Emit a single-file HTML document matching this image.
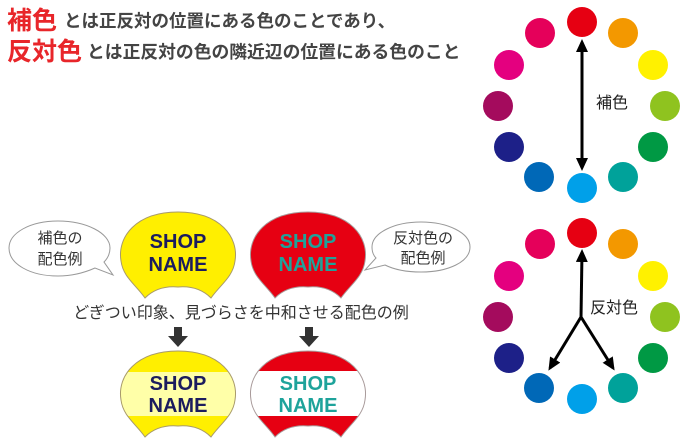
<!DOCTYPE html>
<html><head><meta charset="utf-8"><style>
body{margin:0;background:#fff;width:690px;height:444px;overflow:hidden}
svg{display:block}
text{font-family:"Liberation Sans","Noto Sans CJK JP",sans-serif}
</style></head><body>
<svg width="690" height="444" viewBox="0 0 690 444" xmlns="http://www.w3.org/2000/svg">
<defs>
<path id="fan" d="M58,1 C100,1 119,26 115,50 C113,66 100,74 91,87 C82,78 70,75 58,76 C46,75 34,78 25,87 C16,74 3,66 1,50 C-3,26 16,1 58,1 Z"/>
<clipPath id="fc"><use href="#fan"/></clipPath>
<marker id="ah" markerWidth="13" markerHeight="12" refX="10" refY="6" orient="auto" markerUnits="userSpaceOnUse"><path d="M0,0 L13,6 L0,12 Z" fill="#000"/></marker>
</defs>
<text x="7" y="29" font-size="25" font-weight="bold" fill="#e8262a">補色</text>
<text x="64" y="27" font-size="17.5" font-weight="bold" fill="#444">とは正反対の位置にある色のことであり、</text>
<text x="7" y="60" font-size="25" font-weight="bold" fill="#e8262a">反対色</text>
<text x="87" y="58" font-size="17.8" font-weight="bold" fill="#444">とは正反対の色の隣近辺の位置にある色のこと</text>

<path d="M58,221 C30,221 9,233 9,248 C9,264 30,276 58,276 C74,276 86,272 95,268 L113,275 L104,262 C108,258 110,253 110,248 C110,233 86,221 58,221 Z" fill="#fff" stroke="#999" stroke-width="1"/>
<text x="60" y="243" font-size="15" text-anchor="middle" fill="#333">補色の</text>
<text x="60" y="264" font-size="15" text-anchor="middle" fill="#333">配色例</text>
<path d="M421,222 C448,222 470,233 470,247 C470,262 448,272 421,272 C405,272 393,269 385,265 L365,270 L376,258 C373,255 372,251 372,247 C372,233 394,222 421,222 Z" fill="#fff" stroke="#999" stroke-width="1"/>
<text x="423" y="243" font-size="15" text-anchor="middle" fill="#333">反対色の</text>
<text x="423" y="263" font-size="15" text-anchor="middle" fill="#333">配色例</text>

<g transform="translate(120,211)"><use href="#fan" fill="#ffef00" stroke="#a89a6a" stroke-width="1"/>
<text x="58" y="37" font-size="20" font-weight="bold" fill="#1c1c5e" text-anchor="middle">SHOP</text>
<text x="58" y="60" font-size="20" font-weight="bold" fill="#1c1c5e" text-anchor="middle">NAME</text></g>
<g transform="translate(250,211)"><use href="#fan" fill="#e60012" stroke="#a89a9a" stroke-width="1"/>
<text x="58" y="37" font-size="20" font-weight="bold" fill="#1ea39b" text-anchor="middle">SHOP</text>
<text x="58" y="60" font-size="20" font-weight="bold" fill="#1ea39b" text-anchor="middle">NAME</text></g>

<text x="241" y="318" font-size="16" text-anchor="middle" fill="#333">どぎつい印象、見づらさを中和させる配色の例</text>

<path d="M174,327 h8 v9 h6 l-10,11 l-10,-11 h6 Z" fill="#333"/>
<path d="M305,327 h8 v9 h6 l-10,11 l-10,-11 h6 Z" fill="#333"/>

<g transform="translate(120,350)">
<g clip-path="url(#fc)"><rect x="-2" y="-2" width="120" height="92" fill="#ffef00"/><rect x="-2" y="22" width="120" height="44" fill="#ffffa8"/></g>
<use href="#fan" fill="none" stroke="#a89a6a" stroke-width="1"/>
<text x="58" y="40" font-size="20" font-weight="bold" fill="#1c1c5e" text-anchor="middle">SHOP</text>
<text x="58" y="62" font-size="20" font-weight="bold" fill="#1c1c5e" text-anchor="middle">NAME</text></g>
<g transform="translate(250,350)">
<g clip-path="url(#fc)"><rect x="-2" y="-2" width="120" height="92" fill="#e60012"/><rect x="-2" y="21" width="120" height="45" fill="#fff"/></g>
<use href="#fan" fill="none" stroke="#a89a9a" stroke-width="1"/>
<text x="58" y="40" font-size="20" font-weight="bold" fill="#1ea39b" text-anchor="middle">SHOP</text>
<text x="58" y="62" font-size="20" font-weight="bold" fill="#1ea39b" text-anchor="middle">NAME</text></g>

<g id="w">
<circle cx="582" cy="22" r="15" fill="#e60012"/>
<circle cx="623" cy="33" r="15" fill="#f39800"/>
<circle cx="653" cy="65" r="15" fill="#fff100"/>
<circle cx="665" cy="106" r="15" fill="#8fc31f"/>
<circle cx="653" cy="147" r="15" fill="#009944"/>
<circle cx="623" cy="177" r="15" fill="#00a29a"/>
<circle cx="582" cy="188" r="15" fill="#00a0e9"/>
<circle cx="539" cy="177" r="15" fill="#0068b7"/>
<circle cx="509" cy="147" r="15" fill="#1d2088"/>
<circle cx="498" cy="106" r="15" fill="#a40b5d"/>
<circle cx="509" cy="65" r="15" fill="#e4007f"/>
<circle cx="540" cy="33" r="15" fill="#e5005a"/>
</g>
<line x1="582" y1="107" x2="582" y2="42" stroke="#000" stroke-width="3" marker-end="url(#ah)"/>
<line x1="582" y1="100" x2="582" y2="168" stroke="#000" stroke-width="3" marker-end="url(#ah)"/>
<text x="596" y="108" font-size="16" fill="#222">補色</text>

<use href="#w" transform="translate(0,211)"/>
<line x1="581" y1="318" x2="582" y2="252" stroke="#000" stroke-width="3" marker-end="url(#ah)"/>
<line x1="581" y1="317" x2="550" y2="368" stroke="#000" stroke-width="3" marker-end="url(#ah)"/>
<line x1="581" y1="317" x2="613" y2="368" stroke="#000" stroke-width="3" marker-end="url(#ah)"/>
<text x="590" y="313" font-size="16" fill="#222">反対色</text>
</svg>
</body></html>
